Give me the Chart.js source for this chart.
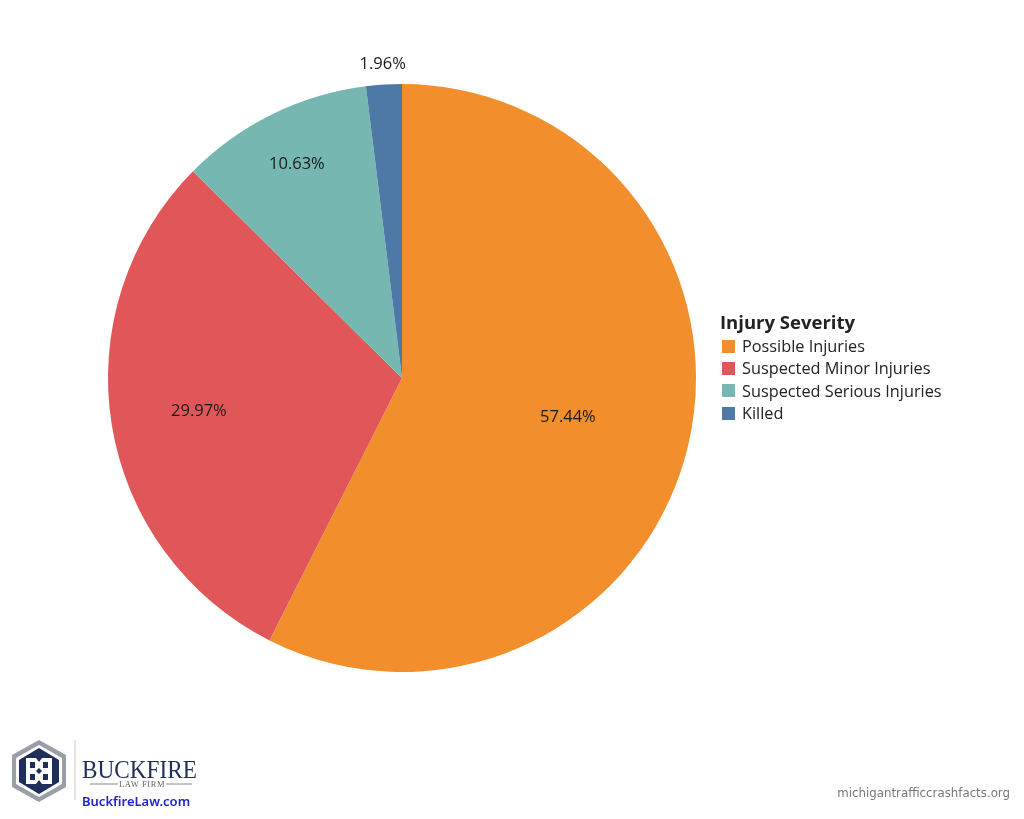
<!DOCTYPE html>
<html>
<head>
<meta charset="utf-8">
<script src="https://cdn.jsdelivr.net/npm/chart.js@4"></script>
<style>
  body { margin: 0; background: #fff; font-family: "Open Sans", "Noto Sans", sans-serif; }
  #wrap { position: relative; width: 1024px; height: 819px; }
  #pieChart { position: absolute; left: 0; top: 0; }
  .legend { position: absolute; left: 720px; top: 309px; color: #222; }
  .legend .title { font-weight: bold; font-size: 18.5px; margin-bottom: 0px; line-height: 26px; }
  .legend .item { font-size: 16.3px; height: 22.4px; line-height: 22.4px; display: flex; align-items: center; }
  .legend .sw { width: 13px; height: 13px; margin: 0 7px 0 2px; }
  .source { position: absolute; right: 14px; top: 786px; font-family: "DejaVu Sans", sans-serif; font-size: 11.8px; color: #777; }
  .logo { position: absolute; left: 10px; top: 738px; }
</style>
</head>
<body>
<div id="wrap">
  <canvas id="pieChart" width="1024" height="819"></canvas>
  <div class="legend" id="legend"></div>
  <div class="source">michigantrafficcrashfacts.org</div>
  <svg class="logo" width="200" height="76" viewBox="0 0 200 76">
    <polygon points="29,2 56,17 56,49 29,64 2,49 2,17" fill="#9a9ea6"/>
    <polygon points="29,7 52,20 52,46 29,59 6,46 6,20" fill="#fff"/>
    <polygon points="29,10 49,22 49,44 29,56 9,44 9,22" fill="#1f2d5a"/>
    <path d="M16,20 h10 l3,4 v6 l-3,3 l3,3 v6 l-3,4 h-10 z M20,24 v6 h5 v-6 z M20,36 v6 h5 v-6 z" fill="#fff"/>
    <path d="M42,20 h-10 l-3,4 v6 l3,3 l-3,3 v6 l3,4 h10 z M38,24 v6 h-5 v-6 z M38,36 v6 h-5 v-6 z" fill="#fff"/>
    <line x1="65" y1="2" x2="65" y2="62" stroke="#c8c8c8" stroke-width="1"/>
    <text x="72" y="40" font-family="Liberation Serif, serif" font-size="26" fill="#1f2d5a" textLength="115" lengthAdjust="spacingAndGlyphs">BUCKFIRE</text>
    <line x1="80" y1="46" x2="108" y2="46" stroke="#888" stroke-width="1"/>
    <line x1="156" y1="46" x2="182" y2="46" stroke="#888" stroke-width="1"/>
    <text x="132" y="49" text-anchor="middle" font-family="Liberation Serif, serif" font-size="8.5" fill="#666" letter-spacing="0.6">LAW FIRM</text>
    <text x="72" y="68" font-family="Noto Sans, sans-serif" font-size="13" font-weight="600" fill="#1f23c9">BuckfireLaw.com</text>
  </svg>
</div>
<script>
const categories = ['Possible Injuries', 'Suspected Minor Injuries', 'Suspected Serious Injuries', 'Killed'];
const shares = [57.44, 29.97, 10.63, 1.96];
const colors = ['#F28E2B', '#E15759', '#76B7B2', '#4E79A7'];
const labelRadius = [0.58, 0.70, 0.81, 1.07];

document.getElementById('legend').innerHTML = '<div class="title">Injury Severity</div>' +
  categories.map((c, i) => `<div class="item"><span class="sw" style="background:${colors[i]}"></span>${c}</div>`).join('');

const sliceLabels = {
  id: 'sliceLabels',
  afterDatasetsDraw(chart) {
    const ctx = chart.ctx;
    const meta = chart.getDatasetMeta(0);
    ctx.save();
    ctx.font = '16.5px "Open Sans", "Noto Sans", sans-serif';
    ctx.fillStyle = '#1a1a1a';
    ctx.textAlign = 'center';
    ctx.textBaseline = 'middle';
    meta.data.forEach((arc, i) => {
      const p = arc.getProps(['x', 'y', 'startAngle', 'endAngle', 'outerRadius'], true);
      const mid = (p.startAngle + p.endAngle) / 2;
      const r = p.outerRadius * labelRadius[i];
      ctx.fillText(shares[i].toFixed(2) + '%', p.x + Math.cos(mid) * r, p.y + Math.sin(mid) * r);
    });
    ctx.restore();
  }
};

new Chart(document.getElementById('pieChart'), {
  type: 'pie',
  data: { labels: categories, datasets: [{ data: shares, backgroundColor: colors, borderWidth: 0 }] },
  options: {
    responsive: false,
    animation: false,
    layout: { padding: { left: 108, right: 328, top: 84, bottom: 147 } },
    plugins: { legend: { display: false }, tooltip: { enabled: false } }
  },
  plugins: [sliceLabels]
});
</script>
</body>
</html>
